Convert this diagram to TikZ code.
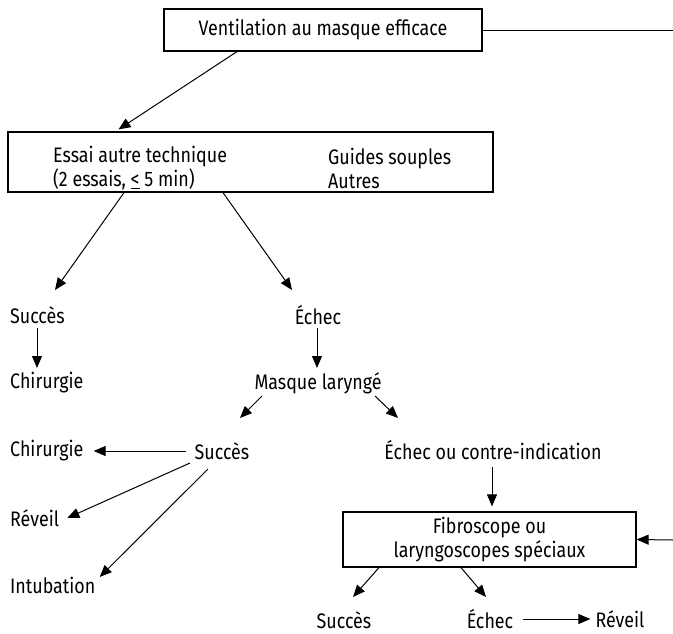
\documentclass[tikz,border=0pt]{standalone}
\usepackage{fontspec}
\setmainfont{Fira Sans}[FakeStretch=0.85]
\usetikzlibrary{arrows.meta}
\begin{document}
\begin{tikzpicture}[x=1pt,y=-1pt,
  every node/.style={font=\fontsize{21}{24}\selectfont},
  box/.style={draw,line width=1.2pt,inner sep=0pt},
  lbl/.style={inner sep=0pt},
  arr/.style={line width=1pt,-{Triangle[length=12pt,width=10pt]}},
  ln/.style={line width=1pt}]
\useasboundingbox (0,0) rectangle (673,633);

% boxes
\node[box,minimum width=318pt,minimum height=42pt] (top) at (323,30) {Ventilation au masque efficace};
\node[box,minimum width=485pt,minimum height=60pt] (essai) at (250.5,162) {};
\node[lbl,anchor=west,align=left] (essaiL) at (53,168) {Essai autre technique\\(2 essais, \underline{<} 5 min)};
\node[lbl,anchor=west,align=left] (essaiR) at (328,168) {Guides souples\\Autres};
\node[box,minimum width=293pt,minimum height=55pt,align=center] (fibro) at (489.5,539.5) {Fibroscope ou\\laryngoscopes spéciaux};

% labels
\node[lbl,anchor=west] (succA) at (10,315) {Succès};
\node[lbl,anchor=west] (chirA) at (10,383) {Chirurgie};
\node[lbl] (echecA) at (318,315) {Échec};
\node[lbl] (masque) at (318,383) {Masque laryngé};
\node[lbl] (succB) at (222,451) {Succès};
\node[lbl,anchor=west] (chirB) at (10,451) {Chirurgie};
\node[lbl,anchor=west] (reveilB) at (10,518) {Réveil};
\node[lbl,anchor=west] (intub) at (10,585) {Intubation};
\node[lbl] (echecC) at (493,450) {Échec ou contre-indication};
\node[lbl] (succD) at (344,620) {Succès};
\node[lbl] (echecD) at (490,619) {Échec};
\node[lbl] (reveilD) at (620,619) {Réveil};

% loose ends at the right border
\coordinate (outTop) at (673,30);
\coordinate (inFibro) at (673,540);

% connectors
\draw[ln] (top.east) -- (outTop);
\draw[arr] (inFibro) -- (fibro.east);
\draw[arr] ([xshift=-86pt]top.south) -- ([xshift=-132pt,yshift=2pt]essai.north);
\draw[arr] ([xshift=-126.5pt]essai.south) -- ([shift={(45pt,25pt)}]succA.west);
\draw[arr] ([xshift=-27.5pt]essai.south) -- ([shift={(-26pt,25pt)}]echecA.center);
\draw[arr] ([shift={(27pt,-13pt)}]succA.west) -- ([shift={(27pt,15pt)}]chirA.west);
\draw[arr] ([shift={(-1pt,-13pt)}]echecA.center) -- ([shift={(-1pt,15pt)}]masque.center);
\draw[arr] ([shift={(-56pt,-13pt)}]masque.center) -- ([shift={(18pt,33pt)}]succB.center);
\draw[arr] ([shift={(57pt,-13pt)}]masque.center) -- ([shift={(-95pt,32pt)}]echecC.center);
\draw[arr] ([xshift=-9pt]succB.west) -- ([xshift=10pt]chirB.east);
\draw[arr] ([shift={(-32pt,-12pt)}]succB.center) -- ([xshift=8pt]reveilB.east);
\draw[arr] ([shift={(-14pt,-18pt)}]succB.center) -- ([shift={(47pt,8pt)}]intub.center);
\draw[arr] ([shift={(-1pt,-17pt)}]echecC.center) -- ([shift={(-1pt,5pt)}]echecC.center |- fibro.north);
\draw[arr] ([xshift=-110.5pt]fibro.south) -- ([shift={(9pt,23pt)}]succD.center);
\draw[arr] ([xshift=-28.5pt]fibro.south) -- ([shift={(-4pt,22pt)}]echecD.center);
\draw[arr] ([xshift=10pt]echecD.east) -- ([xshift=-5pt]reveilD.west);
\end{tikzpicture}
\end{document}
